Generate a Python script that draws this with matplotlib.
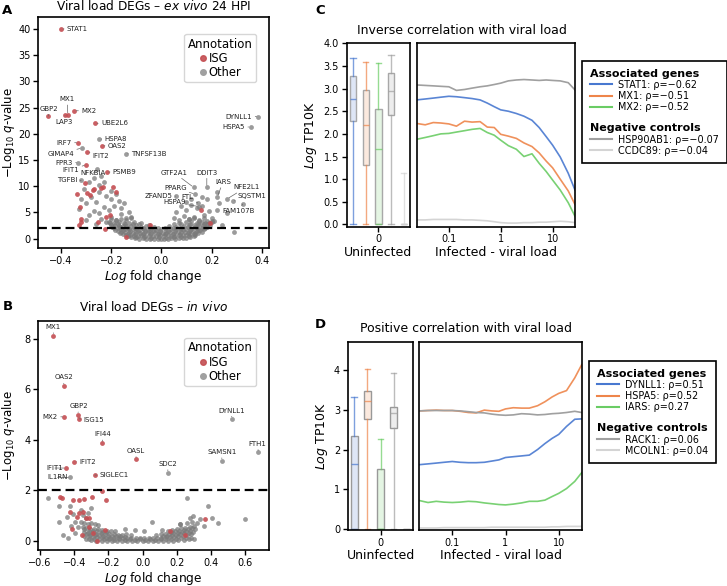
import numpy as np
import matplotlib
matplotlib.use('Agg')
import matplotlib.pyplot as plt
from matplotlib.lines import Line2D
from matplotlib.colors import to_rgba
from matplotlib.ticker import NullLocator

# ---------------- data ----------------
# Panel A: ex vivo volcano, labelled genes (log fold change, -log10 q, ISG?)
a_genes = ['STAT1', 'GBP2', 'MX1', 'LAP3', 'MX2', 'UBE2L6', 'IRF7', 'OAS2', 'IFIT2', 'IFIT1',
           'PSMB9', 'GIMAP4', 'FPR3', 'NFKBIA', 'TGFBI', 'HSPA8', 'TNFSF13B', 'DYNLL1', 'HSPA5',
           'GTF2A1', 'DDIT3', 'PPARG', 'IARS', 'NFE2L1', 'ZFAND5', 'FTL', 'HSPA9', 'SQSTM1', 'FAM107B']
a_lfc = [-0.400, -0.451, -0.373, -0.384, -0.348, -0.264, -0.331, -0.238, -0.295, -0.300,
         -0.218, -0.317, -0.331, -0.255, -0.320, -0.248, -0.142, 0.387, 0.356,
         0.128, 0.181, 0.134, 0.223, 0.263, 0.057, 0.145, 0.151, 0.284, 0.324]
a_q = [40.0, 23.4, 23.6, 23.5, 24.4, 22.0, 18.3, 17.7, 16.6, 14.1,
       12.7, 17.3, 14.5, 13.3, 11.1, 19.0, 16.2, 23.3, 21.3,
       9.8, 9.8, 8.5, 7.9, 7.6, 8.1, 6.8, 6.1, 7.1, 6.6]
a_isg = [1, 1, 1, 1, 1, 1, 1, 1, 1, 1,
         1, 0, 0, 0, 0, 0, 0, 0, 0,
         0, 0, 0, 0, 0, 0, 0, 0, 0, 0]

# other ISGs (unlabelled) in panel A
a_isg_bg = [(-0.303, 10.6), (-0.295, 8.7), (-0.335, 8.5), (-0.271, 9.2), (-0.231, 9.9), (-0.191, 9.9),
            (-0.181, 8.9), (-0.268, 9.4), (-0.324, 6.1), (-0.320, 3.8), (-0.320, 3.1), (-0.329, 2.6),
            (-0.251, 3.2), (-0.221, 4.1), (-0.205, 4.5), (-0.225, 1.8), (-0.141, 0.3), (-0.045, 2.6),
            (0.158, 5.5), (0.194, 2.9), (-0.285, 8.4), (-0.240, 9.6)]

# other genes (unlabelled) in panel A
a_other_bg = [
    (-0.29, 10.8), (-0.27, 11.5), (-0.25, 10.3), (-0.24, 12.0), (-0.31, 9.5), (-0.28, 8.0), (-0.26, 7.0),
    (-0.30, 6.8), (-0.22, 8.2), (-0.20, 7.5), (-0.18, 8.5), (-0.17, 7.2), (-0.23, 6.0), (-0.21, 5.5),
    (-0.19, 6.3), (-0.16, 5.8), (-0.15, 6.8), (-0.27, 5.2), (-0.25, 4.8), (-0.29, 4.5), (-0.24, 3.8),
    (-0.22, 3.2), (-0.20, 4.2), (-0.18, 3.6), (-0.16, 4.6), (-0.14, 3.9), (-0.13, 5.0), (-0.12, 4.2),
    (-0.26, 2.8), (-0.30, 3.5), (-0.33, 5.6), (-0.32, 7.5), (-0.23, 10.8), (-0.20, 9.0), (-0.25, 8.8),
    (0.06, 5.0), (0.08, 6.2), (0.10, 5.4), (0.12, 6.5), (0.14, 5.8), (0.16, 6.3), (0.18, 7.5),
    (0.19, 5.2), (0.20, 4.0), (0.22, 5.5), (0.23, 6.8), (0.21, 3.3), (0.17, 4.5), (0.13, 4.2),
    (0.11, 3.7), (0.09, 4.3), (0.07, 3.5), (0.15, 3.4), (0.24, 2.5), (0.26, 4.8), (0.29, 1.2),
    (0.18, 2.8), (0.05, 3.9), (0.12, 7.5), (0.22, 8.8), (0.16, 8.0), (0.10, 7.0),
    (-0.12, 0.3), (-0.105, 0.1), (-0.09, 0.0), (-0.075, 0.05), (-0.06, -0.05), (-0.045, 0.0),
    (-0.03, -0.1), (-0.015, 0.0), (0.0, -0.1), (0.012, 0.0), (0.025, -0.05), (0.04, 0.05),
    (0.055, 0.0), (0.07, 0.1), (0.085, 0.05), (0.1, 0.2), (0.115, 0.25), (0.13, 0.4),
    (-0.135, 0.45), (-0.1, 0.3), (-0.07, 0.25), (-0.04, 0.2), (-0.01, 0.25), (0.02, 0.2),
    (0.05, 0.3), (0.08, 0.35), (0.11, 0.45), (0.135, 0.6),
    (-0.155, 0.9), (-0.14, 0.7), (-0.125, 0.6), (-0.11, 0.55), (-0.095, 0.5), (-0.08, 0.6),
    (-0.065, 0.45), (-0.05, 0.5), (-0.035, 0.55), (-0.02, 0.45), (-0.005, 0.6), (0.01, 0.5),
    (0.025, 0.6), (0.04, 0.55), (0.055, 0.5), (0.07, 0.6), (0.085, 0.7), (0.1, 0.65),
    (0.115, 0.8), (0.13, 0.9), (0.145, 1.0),
    (-0.165, 1.1), (-0.135, 0.95), (-0.105, 0.85), (-0.075, 0.9), (-0.045, 0.85), (-0.015, 0.9),
    (0.015, 0.85), (0.045, 0.9), (0.075, 0.95), (0.105, 1.0), (0.135, 1.15), (0.16, 1.3),
    (-0.175, 1.5), (-0.16, 1.3), (-0.145, 1.25), (-0.13, 1.2), (-0.115, 1.1), (-0.1, 1.2),
    (-0.085, 1.15), (-0.07, 1.1), (-0.055, 1.2), (-0.04, 1.1), (-0.025, 1.2), (-0.01, 1.05),
    (0.005, 1.15), (0.02, 1.1), (0.035, 1.2), (0.05, 1.1), (0.065, 1.2), (0.08, 1.3),
    (0.095, 1.2), (0.11, 1.3), (0.125, 1.4), (0.14, 1.5), (0.155, 1.6), (0.17, 1.8),
    (-0.185, 1.7), (-0.155, 1.55), (-0.125, 1.5), (-0.095, 1.45), (-0.065, 1.5), (-0.035, 1.45),
    (-0.005, 1.4), (0.025, 1.45), (0.055, 1.5), (0.085, 1.55), (0.115, 1.6), (0.145, 1.7), (0.175, 2.0),
    (-0.19, 2.1), (-0.175, 2.0), (-0.16, 1.9), (-0.145, 1.8), (-0.13, 1.85), (-0.115, 1.75),
    (-0.1, 1.8), (-0.085, 1.7), (-0.07, 1.75), (-0.055, 1.7), (-0.04, 1.8), (-0.02, 1.7),
    (0.0, 1.75), (0.02, 1.7), (0.04, 1.8), (0.06, 1.75), (0.08, 1.85), (0.1, 1.8),
    (0.12, 1.9), (0.14, 2.0), (0.16, 2.1), (0.18, 2.3),
    (-0.195, 2.3), (-0.165, 2.15), (-0.135, 2.1), (-0.105, 2.1), (-0.075, 2.05), (-0.045, 2.0),
    (-0.015, 2.05), (0.015, 2.0), (0.045, 2.1), (0.075, 2.1), (0.105, 2.15), (0.135, 2.25),
    (0.165, 2.4), (0.195, 2.6),
    (-0.2, 2.6), (-0.185, 2.5), (-0.17, 2.4), (-0.155, 2.45), (-0.14, 2.35), (-0.12, 2.4),
    (-0.1, 2.5), (-0.08, 2.3), (-0.06, 2.4), (-0.03, 2.3), (0.03, 2.4), (0.06, 2.3),
    (0.09, 2.45), (0.11, 2.5), (0.13, 2.6), (0.15, 2.5), (0.17, 2.7), (0.19, 2.9),
    (-0.205, 2.9), (-0.175, 2.75), (-0.145, 2.7), (-0.115, 2.75), (-0.09, 2.7), (-0.05, 2.65),
    (0.05, 2.7), (0.08, 2.75), (0.115, 2.8), (0.145, 2.85), (0.175, 3.0), (0.2, 3.3),
    (-0.21, 3.2), (-0.19, 3.0), (-0.17, 3.1), (-0.15, 2.95), (-0.13, 3.05), (-0.11, 3.2),
    (-0.08, 3.0), (0.07, 3.0), (0.1, 3.1), (0.12, 3.3), (0.14, 3.0), (0.16, 3.2), (0.18, 3.4),
    (0.2, 3.1), (-0.2, 3.8), (-0.18, 3.6), (-0.16, 3.7), (-0.14, 3.5), (-0.12, 3.9),
    (0.11, 3.7), (0.13, 3.9), (0.15, 3.6), (0.17, 4.0)]

# Panel B: in vivo volcano, labelled genes
b_genes = ['MX1', 'OAS2', 'GBP2', 'MX2', 'ISG15', 'DYNLL1', 'IFI44', 'OASL', 'FTH1', 'SAMSN1',
           'SDC2', 'IFIT2', 'IFIT1', 'IL1RN', 'SIGLEC1']
b_lfc = [-0.522, -0.461, -0.379, -0.457, -0.370, 0.522, -0.235, -0.038, 0.678, 0.464,
         0.148, -0.401, -0.448, -0.423, -0.278]
b_q = [8.13, 6.13, 5.00, 4.91, 4.83, 4.83, 3.86, 3.22, 3.50, 3.17,
       2.69, 3.13, 2.88, 2.51, 2.60]
b_isg = [1, 1, 1, 1, 1, 0, 1, 1, 0, 0,
         0, 1, 1, 0, 1]

b_isg_bg = [(-0.483, 1.73), (-0.474, 1.68), (-0.409, 1.61), (-0.374, 1.61), (-0.343, 1.64),
            (-0.294, 1.74), (-0.215, 1.61), (-0.235, 1.97), (-0.424, 1.12), (-0.372, 1.08),
            (-0.350, 1.12), (-0.331, 0.91), (-0.311, 0.91), (-0.386, 0.93), (-0.414, 0.45),
            (-0.352, 0.23), (-0.311, 0.55), (-0.219, 0.42), (-0.268, 0.0), (0.161, 0.38),
            (0.250, 0.23), (0.366, 0.85), (-0.290, 0.30)]

b_other_bg = [
    (-0.551, 1.70), (-0.492, 1.38), (-0.492, 0.73), (-0.463, 0.23), (-0.434, 0.10), (-0.424, 1.38),
    (-0.443, 0.95), (-0.394, 0.75), (-0.380, 0.55), (0.259, 1.70), (0.385, 1.38), (0.600, 0.85),
    (0.298, 0.99), (0.337, 0.86), (0.405, 0.88), (0.444, 0.71), (0.054, 0.75), (0.112, 0.42),
    (0.217, 0.68), (-0.044, 0.42), (0.010, 0.38), (-0.100, 0.45), (0.320, 0.70), (0.360, 0.60),
    (-0.405, 1.05), (-0.420, 0.60), (-0.330, 0.90), (-0.350, 1.00), (-0.320, 1.10), (-0.360, 1.20),
    (-0.300, 1.30), (0.280, 0.88), (-0.395, 0.30),
    (-0.33, 0.05), (-0.30, 0.02), (-0.27, 0.0), (-0.24, 0.0), (-0.21, 0.0), (-0.18, 0.0),
    (-0.15, 0.0), (-0.12, 0.0), (-0.09, 0.0), (-0.06, 0.0), (-0.03, 0.0), (0.0, 0.0),
    (0.03, 0.0), (0.06, 0.0), (0.09, 0.0), (0.12, 0.0), (0.15, 0.0), (0.18, 0.0),
    (0.21, 0.02), (0.24, 0.03), (0.27, 0.05), (0.30, 0.08),
    (-0.315, 0.08), (-0.285, 0.06), (-0.255, 0.05), (-0.225, 0.05), (-0.195, 0.05), (-0.165, 0.04),
    (-0.135, 0.05), (-0.105, 0.04), (-0.075, 0.05), (-0.045, 0.04), (-0.015, 0.05), (0.015, 0.04),
    (0.045, 0.05), (0.075, 0.04), (0.105, 0.05), (0.135, 0.05), (0.165, 0.06), (0.195, 0.07),
    (0.225, 0.09), (0.255, 0.1), (0.285, 0.12),
    (-0.34, 0.2), (-0.315, 0.18), (-0.29, 0.15), (-0.265, 0.14), (-0.24, 0.13), (-0.215, 0.12),
    (-0.19, 0.12), (-0.165, 0.1), (-0.14, 0.12), (-0.115, 0.1), (-0.09, 0.12), (-0.065, 0.1),
    (-0.04, 0.12), (-0.015, 0.1), (0.01, 0.12), (0.035, 0.1), (0.06, 0.12), (0.085, 0.1),
    (0.11, 0.12), (0.135, 0.14), (0.16, 0.13), (0.185, 0.15), (0.21, 0.17), (0.235, 0.2),
    (0.26, 0.22), (0.285, 0.25),
    (-0.33, 0.27), (-0.305, 0.24), (-0.28, 0.22), (-0.255, 0.21), (-0.23, 0.2), (-0.205, 0.19),
    (-0.18, 0.19), (-0.155, 0.18), (-0.13, 0.17), (-0.105, 0.16), (0.12, 0.19), (0.145, 0.2),
    (0.17, 0.22), (0.195, 0.24), (0.22, 0.26), (0.245, 0.3), (0.27, 0.32), (0.295, 0.35),
    (-0.345, 0.35), (-0.32, 0.32), (-0.295, 0.3), (-0.27, 0.28), (-0.245, 0.3), (-0.22, 0.27),
    (-0.195, 0.26), (-0.17, 0.25), (-0.145, 0.24), (-0.12, 0.22), (-0.095, 0.25), (-0.07, 0.22),
    (0.08, 0.22), (0.105, 0.25), (0.13, 0.27), (0.155, 0.28), (0.18, 0.3), (0.205, 0.32),
    (0.23, 0.35), (0.255, 0.38), (0.28, 0.4), (0.305, 0.45),
    (-0.34, 0.45), (-0.315, 0.4), (-0.29, 0.38), (-0.265, 0.37), (-0.24, 0.36), (-0.215, 0.34),
    (0.165, 0.35), (0.19, 0.37), (0.215, 0.4), (0.24, 0.44), (0.265, 0.47), (0.29, 0.5),
    (-0.35, 0.55), (-0.33, 0.5), (-0.31, 0.48), (-0.285, 0.45), (-0.26, 0.48), (-0.235, 0.42),
    (-0.21, 0.4), (-0.185, 0.4), (-0.16, 0.38), (0.15, 0.4), (0.175, 0.42), (0.2, 0.45),
    (0.225, 0.5), (0.25, 0.52), (0.275, 0.55), (0.3, 0.6),
    (-0.36, 0.75), (-0.34, 0.7), (-0.32, 0.68), (-0.3, 0.72), (-0.28, 0.65), (-0.26, 0.62),
    (0.22, 0.65), (0.26, 0.7), (0.29, 0.75)]

# Panels C/D: smoothed expression along viral load
vl = [0.024, 0.035, 0.05, 0.07, 0.1, 0.14, 0.2, 0.28, 0.4, 0.55, 0.75, 1.0, 1.4, 2.0, 2.8,
      4.0, 5.5, 7.5, 10, 14, 20, 27]

c_genes = ['STAT1', 'MX1', 'MX2', 'HSP90AB1', 'CCDC89']
c_rho = ['−0.62', '−0.51', '−0.52', '−0.07', '−0.04']
c_stat1 = [2.75, 2.77, 2.79, 2.81, 2.83, 2.82, 2.80, 2.78, 2.75, 2.68, 2.60, 2.53, 2.50, 2.45, 2.39,
           2.30, 2.14, 1.94, 1.75, 1.49, 1.13, 0.76]
c_mx1 = [2.23, 2.20, 2.25, 2.24, 2.22, 2.17, 2.28, 2.26, 2.27, 2.15, 2.14, 1.99, 1.95, 1.90, 1.80,
         1.72, 1.58, 1.40, 1.25, 1.00, 0.74, 0.44]
c_mx2 = [1.88, 1.92, 1.96, 2.00, 2.01, 2.04, 2.07, 2.10, 2.12, 2.03, 1.97, 1.86, 1.74, 1.66, 1.50,
         1.56, 1.35, 1.17, 0.98, 0.76, 0.48, 0.18]
c_hsp90ab1 = [3.08, 3.07, 3.06, 3.05, 3.04, 2.96, 2.98, 3.01, 3.04, 3.06, 3.09, 3.12, 3.17, 3.19,
              3.20, 3.19, 3.18, 3.19, 3.18, 3.17, 3.13, 2.97]
c_ccdc89 = [0.10, 0.10, 0.11, 0.11, 0.11, 0.11, 0.10, 0.10, 0.09, 0.08, 0.06, 0.04, 0.03, 0.03,
            0.04, 0.04, 0.05, 0.05, 0.06, 0.07, 0.06, 0.04]
# uninfected boxplots: median, q1, q3, whisker low, whisker high
c_med = [2.78, 2.20, 1.66, 2.95, 0.0]
c_q1 = [2.29, 1.31, 0.0, 2.41, 0.0]
c_q3 = [3.28, 2.97, 2.56, 3.34, 0.0]
c_lo = [0.0, 0.0, 0.0, 0.0, 0.0]
c_hi = [3.67, 3.59, 3.57, 3.74, 1.13]

d_genes = ['DYNLL1', 'HSPA5', 'IARS', 'RACK1', 'MCOLN1']
d_rho = ['0.51', '0.52', '0.27', '0.06', '0.04']
d_dynll1 = [1.62, 1.64, 1.66, 1.68, 1.70, 1.68, 1.67, 1.67, 1.68, 1.71, 1.74, 1.80, 1.82, 1.84,
            1.86, 2.00, 2.15, 2.28, 2.38, 2.58, 2.76, 2.77]
d_hspa5 = [2.97, 2.98, 2.99, 2.98, 2.98, 2.96, 2.93, 2.92, 2.99, 2.97, 2.96, 3.02, 3.05, 3.04,
           3.04, 3.10, 3.20, 3.32, 3.41, 3.48, 3.80, 4.13]
d_iars = [0.72, 0.67, 0.70, 0.68, 0.67, 0.68, 0.70, 0.69, 0.66, 0.64, 0.62, 0.61, 0.63, 0.66,
          0.70, 0.70, 0.73, 0.82, 0.90, 1.02, 1.20, 1.42]
d_rack1 = [2.97, 2.98, 2.98, 2.98, 2.98, 2.97, 2.95, 2.93, 2.92, 2.89, 2.87, 2.86, 2.87, 2.90,
           2.89, 2.87, 2.88, 2.90, 2.91, 2.93, 2.96, 2.93]
d_mcoln1 = [0.03, 0.03, 0.03, 0.04, 0.04, 0.04, 0.04, 0.04, 0.04, 0.05, 0.05, 0.05, 0.05, 0.05,
            0.05, 0.05, 0.05, 0.06, 0.06, 0.07, 0.07, 0.07]
d_med = [1.64, 3.21, 0.0, 2.93, 0.0]
d_q1 = [0.0, 2.76, 0.0, 2.55, 0.0]
d_q3 = [2.33, 3.47, 1.52, 3.08, 0.0]
d_lo = [0.0, 0.0, 0.0, 0.0, 0.0]
d_hi = [3.33, 4.03, 2.26, 3.93, 0.0]

# ---------------- style ----------------
W, H = 727, 586
RED = '#c44e52'
GRAY = '#7a7a7a'
LINE_COLORS = ['#4878d0', '#ee854a', '#6acc64', '#a0a0a0', '#d4d4d4']

plt.rcParams['font.family'] = ['DejaVu Sans']
plt.rcParams['axes.linewidth'] = 1.2
plt.rcParams['xtick.labelsize'] = 7
plt.rcParams['ytick.labelsize'] = 7
plt.rcParams['xtick.major.size'] = 3.5
plt.rcParams['ytick.major.size'] = 3.5
plt.rcParams['xtick.major.width'] = 1.0
plt.rcParams['ytick.major.width'] = 1.0
plt.rcParams['xtick.major.pad'] = 2
plt.rcParams['ytick.major.pad'] = 2


def rect(x0, y0, x1, y1):
    return [x0 / W, 1 - y1 / H, (x1 - x0) / W, (y1 - y0) / H]


fig = plt.figure(figsize=(W / 100, H / 100), dpi=100)

# label placement (text x, text y, ha) in data coordinates
a_lab = {'STAT1': (-0.377, 40.1, 'left'), 'GBP2': (-0.412, 24.8, 'right'), 'MX1': (-0.376, 26.6, 'center'),
         'LAP3': (-0.387, 22.3, 'center'), 'MX2': (-0.320, 24.4, 'left'), 'UBE2L6': (-0.241, 22.0, 'left'),
         'IRF7': (-0.357, 18.3, 'right'), 'OAS2': (-0.214, 17.7, 'left'), 'IFIT2': (-0.274, 15.8, 'left'),
         'IFIT1': (-0.327, 13.1, 'right'), 'PSMB9': (-0.194, 12.7, 'left'), 'GIMAP4': (-0.348, 16.2, 'right'),
         'FPR3': (-0.353, 14.5, 'right'), 'NFKBIA': (-0.271, 12.5, 'center'), 'TGFBI': (-0.335, 11.1, 'right'),
         'HSPA8': (-0.227, 19.0, 'left'), 'TNFSF13B': (-0.122, 16.2, 'left'), 'DYNLL1': (0.363, 23.3, 'right'),
         'HSPA5': (0.334, 21.3, 'right'), 'GTF2A1': (0.050, 12.6, 'center'), 'DDIT3': (0.181, 12.6, 'center'),
         'PPARG': (0.055, 9.6, 'center'), 'IARS': (0.245, 10.8, 'center'), 'NFE2L1': (0.338, 9.8, 'center'),
         'ZFAND5': (0.045, 8.1, 'right'), 'FTL': (0.104, 8.0, 'center'), 'HSPA9': (0.052, 6.9, 'center'),
         'SQSTM1': (0.362, 8.2, 'center'), 'FAM107B': (0.308, 5.2, 'center')}
b_lab = {'MX1': (-0.522, 8.47, 'center'), 'OAS2': (-0.461, 6.47, 'center'), 'GBP2': (-0.372, 5.33, 'center'),
         'MX2': (-0.495, 4.91, 'right'), 'ISG15': (-0.346, 4.80, 'left'), 'DYNLL1': (0.522, 5.16, 'center'),
         'IFI44': (-0.235, 4.22, 'center'), 'OASL': (-0.038, 3.56, 'center'), 'FTH1': (0.672, 3.84, 'center'),
         'SAMSN1': (0.464, 3.51, 'center'), 'SDC2': (0.148, 3.04, 'center'), 'IFIT2': (-0.372, 3.13, 'left'),
         'IFIT1': (-0.464, 2.88, 'right'), 'IL1RN': (-0.438, 2.51, 'right'), 'SIGLEC1': (-0.253, 2.60, 'left')}


def volcano(ax, other_bg, isg_bg, genes, lfc, q, isg, lab, xlim, ylim, xticks, yticks, title, tpad):
    ox, oy = zip(*other_bg)
    ix, iy = zip(*isg_bg)
    lfc = np.array(lfc)
    q = np.array(q)
    isg = np.array(isg, dtype=bool)
    ax.scatter(ox, oy, s=12, color=GRAY, alpha=0.75, lw=0, zorder=2)
    ax.scatter(lfc[~isg], q[~isg], s=12, color=GRAY, alpha=0.75, lw=0, zorder=2)
    ax.scatter(ix, iy, s=12, color=RED, alpha=0.9, lw=0, zorder=2.5)
    ax.scatter(lfc[isg], q[isg], s=12, color=RED, alpha=0.9, lw=0, zorder=2.5)
    ax.axhline(2, color='black', lw=1.6, ls=(0, (4, 2.2)), zorder=3)
    for g, x, y in zip(genes, lfc, q):
        tx, ty, ha = lab[g]
        ax.annotate(g, xy=(x, y), xytext=(tx, ty), fontsize=5, ha=ha, va='center', color='#222222',
                    arrowprops=dict(arrowstyle='-', color='#666666', lw=0.5, shrinkA=0, shrinkB=1.5),
                    zorder=4)
    ax.set_xlim(*xlim)
    ax.set_ylim(*ylim)
    ax.set_xticks(xticks)
    ax.set_yticks(yticks)
    ax.set_xlabel('$Log$ fold change', fontsize=8.7, labelpad=2)
    ax.set_ylabel('−Log$_{10}$ $q$-value', fontsize=8.5)
    ax.yaxis.set_label_coords(-0.093, 0.5)
    ax.set_title(title, fontsize=8.7, pad=tpad)
    hs = [Line2D([], [], marker='o', ls='none', color=RED, markersize=4, alpha=0.9),
          Line2D([], [], marker='o', ls='none', color='#a0a0a0', markersize=4)]
    ax.legend(hs, ['ISG', 'Other'], title='Annotation', loc='upper right', bbox_to_anchor=(0.944, 0.926),
              borderaxespad=0, fontsize=8.3, title_fontsize=8.5, handlelength=0.6, handletextpad=0.2,
              labelspacing=0.1, borderpad=0.3)


ax_a = fig.add_axes(rect(38, 17, 269, 248))
volcano(ax_a, a_other_bg, a_isg_bg, a_genes, a_lfc, a_q, a_isg, a_lab, (-0.492, 0.429), (-1.8, 42.3),
        [-0.4, -0.2, 0.0, 0.2, 0.4], [0, 5, 10, 15, 20, 25, 30, 35, 40],
        'Viral load DEGs – $ex\\ vivo$ 24 HPI', 5)

ax_b = fig.add_axes(rect(38, 321, 269, 550))
volcano(ax_b, b_other_bg, b_isg_bg, b_genes, b_lfc, b_q, b_isg, b_lab, (-0.612, 0.74), (-0.37, 8.71),
        [-0.6, -0.4, -0.2, 0.0, 0.2, 0.4, 0.6], [0, 2, 4, 6, 8],
        'Viral load DEGs – $in\\ vivo$', 7.5)


def box_panel(ax, med, q1, q3, lo, hi, ylim, yticks, yfmt, edge):
    stats = [dict(med=m, q1=a, q3=b, whislo=l, whishi=h, fliers=[])
             for m, a, b, l, h in zip(med, q1, q3, lo, hi)]
    pos = [-0.32, -0.16, 0.0, 0.16, 0.32]
    bp = ax.bxp(stats, positions=pos, widths=0.08, capwidths=0.07, patch_artist=True,
                showfliers=False, manage_ticks=False)
    for i, c in enumerate(LINE_COLORS):
        bp['boxes'][i].set(facecolor=to_rgba(c, 0.18), edgecolor=edge, lw=1.0)
        for k in (2 * i, 2 * i + 1):
            bp['whiskers'][k].set(color=to_rgba(c, 0.7), lw=1.0)
            bp['caps'][k].set(color=to_rgba(c, 0.7), lw=1.0)
        bp['medians'][i].set(color=to_rgba(c, 0.7), lw=1.0)
    ax.set_xlim(-0.4, 0.4)
    ax.set_ylim(*ylim)
    ax.set_yticks(yticks)
    ax.set_yticklabels([yfmt.format(v) for v in yticks])
    ax.set_xticks([0])
    ax.set_xticklabels(['0'])
    ax.set_xlabel('Uninfected', fontsize=9, labelpad=1)
    ax.set_ylabel('$Log$ TP10K', fontsize=9, labelpad=3)


def line_panel(ax, series, ylim):
    for ys, c in zip(series, LINE_COLORS):
        ax.plot(vl, ys, color=c, lw=1.2, alpha=0.9 if c not in ('#a0a0a0', '#d4d4d4') else 1)
    ax.set_xscale('log')
    ax.set_xlim(0.024, 27)
    ax.set_ylim(*ylim)
    ax.set_xticks([0.1, 1, 10])
    ax.set_xticklabels(['0.1', '1', '10'])
    ax.xaxis.set_minor_locator(NullLocator())
    ax.tick_params(left=False, labelleft=False)
    ax.set_xlabel('Infected - viral load', fontsize=9, labelpad=1)


def group_legend(anchor, heads, genes, rhos):
    handles, labels = [], []
    handles.append(Line2D([], [], ls='none'))
    labels.append(heads[0])
    for g, r, c in zip(genes[:3], rhos[:3], LINE_COLORS[:3]):
        handles.append(Line2D([], [], color=c, lw=1.5))
        labels.append(f'{g}: ρ={r}')
    handles.append(Line2D([], [], ls='none'))
    labels.append(' ')
    handles.append(Line2D([], [], ls='none'))
    labels.append(heads[1])
    for g, r, c in zip(genes[3:], rhos[3:], LINE_COLORS[3:]):
        handles.append(Line2D([], [], color=c, lw=1.5))
        labels.append(f'{g}: ρ={r}')
    leg = fig.legend(handles, labels, loc='upper left', bbox_to_anchor=anchor, borderaxespad=0,
                     fontsize=6.9, frameon=True, fancybox=False, edgecolor='black', framealpha=1,
                     handlelength=2.3, handletextpad=0.7, labelspacing=0.12, borderpad=0.8)
    leg.get_frame().set_linewidth(1.2)
    for t in leg.get_texts():
        if t.get_text() in heads:
            t.set_fontweight('bold')
            t.set_fontsize(8)
        if t.get_text() == ' ':
            t.set_fontsize(6.5)
    try:
        for col in leg._legend_handle_box.get_children():
            for row in col.get_children():
                da, ta = row.get_children()
                if ta.get_text() in heads:
                    da.set_width(-0.7 * 6.9)
    except Exception:
        pass
    return leg


# Panel C
ax_cb = fig.add_axes(rect(346.7, 43.3, 410, 226.7))
box_panel(ax_cb, c_med, c_q1, c_q3, c_lo, c_hi, (-0.05, 4.0),
          [0, 0.5, 1.0, 1.5, 2.0, 2.5, 3.0, 3.5, 4.0], '{:.1f}', '#a8a8a8')
ax_cl = fig.add_axes(rect(416.7, 43.3, 575, 226.7))
line_panel(ax_cl, [c_stat1, c_mx1, c_mx2, c_hsp90ab1, c_ccdc89], (-0.05, 4.0))
fig.text(462 / W, 1 - 34 / H, 'Inverse correlation with viral load', ha='center', va='baseline', fontsize=9)
group_legend((582 / W, 1 - 61 / H), ['Associated genes', 'Negative controls'], c_genes, c_rho)

# Panel D
ax_db = fig.add_axes(rect(347.7, 342, 413.3, 530))
box_panel(ax_db, d_med, d_q1, d_q3, d_lo, d_hi, (-0.02, 4.7), [0, 1, 2, 3, 4], '{:d}', '#999999')
ax_dl = fig.add_axes(rect(419.3, 342, 581.7, 530))
line_panel(ax_dl, [d_dynll1, d_hspa5, d_iars, d_rack1, d_mcoln1], (-0.02, 4.7))
fig.text(466 / W, 1 - 332 / H, 'Positive correlation with viral load', ha='center', va='baseline', fontsize=9)
group_legend((589 / W, 1 - 361 / H), ['Associated genes', 'Negative controls'], d_genes, d_rho)

# panel letters
for lt, x, y in [('A', 7.5, 11), ('B', 7.5, 306.5), ('C', 320, 11), ('D', 320, 325)]:
    fig.text(x / W, 1 - y / H, lt, ha='center', va='center', fontsize=9.5, fontweight='bold')

fig.savefig('out.png', dpi=100)
